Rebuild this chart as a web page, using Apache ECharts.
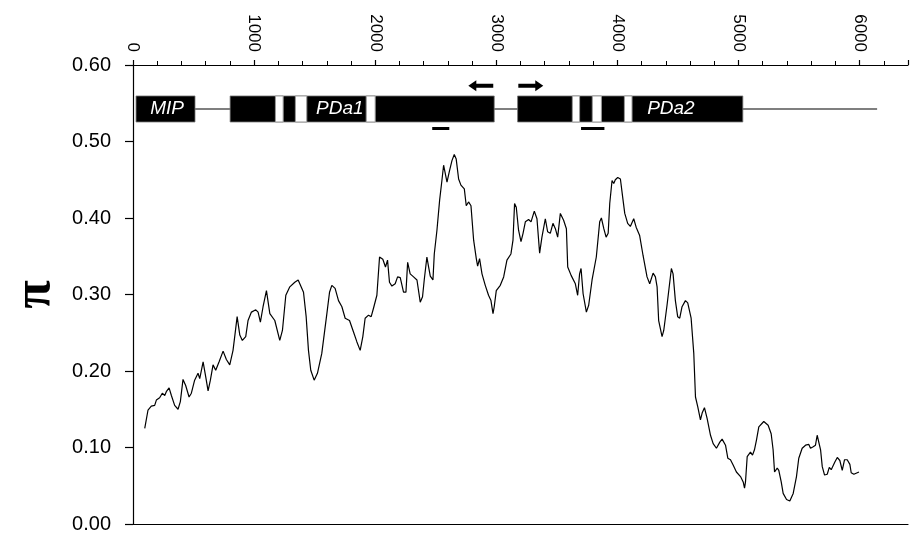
<!DOCTYPE html>
<html>
<head>
<meta charset="utf-8">
<script src="https://cdn.jsdelivr.net/npm/echarts@6/dist/echarts.min.js"></script>
<style>
  html, body { margin: 0; padding: 0; background: #fff; }
  #chart { width: 910px; height: 535px; }
</style>
</head>
<body>
<div id="chart"></div>
<script>
// sliding-window nucleotide diversity along the locus (position in bp, pi)
const positions = [
  97, 124, 151, 179, 193, 220, 242, 262, 275, 298, 317, 344, 372, 391, 413, 435, 463, 482, 509, 537,
  551, 579, 601, 620, 639, 661, 683, 711, 744, 771, 799, 826, 840, 860, 882, 903, 931, 950, 978, 1014,
  1033, 1052, 1074, 1102, 1130, 1171, 1212, 1234, 1262, 1295, 1336, 1364, 1408, 1430, 1449, 1468, 1496, 1523, 1559, 1601,
  1623, 1642, 1669, 1697, 1725, 1752, 1788, 1821, 1849, 1876, 1898, 1917, 1945, 1967, 1986, 2014, 2036, 2063, 2085, 2102,
  2118, 2138, 2165, 2185, 2207, 2234, 2254, 2268, 2289, 2317, 2345, 2372, 2391, 2405, 2427, 2441, 2455, 2477, 2488, 2510,
  2532, 2551, 2565, 2579, 2593, 2614, 2634, 2653, 2669, 2689, 2708, 2736, 2752, 2771, 2791, 2813, 2835, 2846, 2862, 2882,
  2909, 2936, 2956, 2973, 2983, 3000, 3033, 3061, 3088, 3121, 3138, 3151, 3165, 3184, 3204, 3221, 3240, 3267, 3287, 3314,
  3336, 3358, 3377, 3405, 3424, 3446, 3468, 3488, 3507, 3529, 3556, 3579, 3590, 3618, 3653, 3672, 3688, 3700, 3717, 3744,
  3763, 3791, 3826, 3854, 3868, 3888, 3907, 3924, 3937, 3956, 3970, 3983, 4003, 4025, 4044, 4061, 4085, 4107, 4135, 4155,
  4184, 4212, 4245, 4267, 4295, 4314, 4328, 4341, 4369, 4383, 4410, 4446, 4460, 4479, 4498, 4515, 4534, 4562, 4581, 4609,
  4631, 4645, 4664, 4686, 4700, 4719, 4741, 4769, 4791, 4818, 4846, 4865, 4893, 4912, 4934, 4956, 4983, 5017, 5039, 5050,
  5058, 5072, 5099, 5116, 5132, 5149, 5168, 5209, 5245, 5270, 5286, 5298, 5320, 5333, 5353, 5369, 5397, 5424, 5452, 5479,
  5498, 5526, 5554, 5581, 5595, 5617, 5636, 5650, 5664, 5678, 5692, 5711, 5733, 5750, 5766, 5779, 5796, 5816, 5837, 5857,
  5876, 5898, 5920, 5931, 5953, 5995
]
const piValues = [
  0.125, 0.149, 0.154, 0.155, 0.162, 0.165, 0.171, 0.168, 0.173, 0.178, 0.168, 0.155, 0.150, 0.160, 0.189, 0.181, 0.166, 0.171, 0.188, 0.197,
  0.190, 0.212, 0.192, 0.174, 0.188, 0.208, 0.201, 0.212, 0.226, 0.215, 0.208, 0.227, 0.245, 0.271, 0.247, 0.240, 0.245, 0.266, 0.277, 0.280,
  0.277, 0.264, 0.284, 0.305, 0.275, 0.266, 0.240, 0.253, 0.299, 0.310, 0.316, 0.319, 0.303, 0.271, 0.227, 0.201, 0.188, 0.197, 0.223, 0.275,
  0.303, 0.312, 0.308, 0.292, 0.284, 0.269, 0.266, 0.251, 0.238, 0.227, 0.245, 0.269, 0.273, 0.271, 0.282, 0.299, 0.349, 0.346, 0.336, 0.345,
  0.316, 0.311, 0.314, 0.323, 0.322, 0.303, 0.303, 0.342, 0.327, 0.323, 0.319, 0.290, 0.297, 0.319, 0.349, 0.336, 0.324, 0.319, 0.353, 0.384,
  0.423, 0.449, 0.469, 0.471, 0.447, 0.462, 0.475, 0.483, 0.477, 0.451, 0.443, 0.438, 0.416, 0.421, 0.416, 0.371, 0.347, 0.337, 0.347, 0.327,
  0.312, 0.299, 0.292, 0.275, 0.284, 0.305, 0.312, 0.323, 0.345, 0.353, 0.371, 0.419, 0.414, 0.384, 0.369, 0.380, 0.395, 0.398, 0.395, 0.409,
  0.399, 0.354, 0.375, 0.399, 0.382, 0.380, 0.393, 0.386, 0.375, 0.406, 0.397, 0.386, 0.336, 0.325, 0.314, 0.299, 0.327, 0.334, 0.301, 0.277,
  0.286, 0.319, 0.349, 0.395, 0.400, 0.386, 0.375, 0.380, 0.419, 0.449, 0.445, 0.450, 0.453, 0.451, 0.427, 0.406, 0.393, 0.389, 0.399, 0.388,
  0.377, 0.351, 0.323, 0.314, 0.328, 0.323, 0.310, 0.266, 0.245, 0.253, 0.286, 0.334, 0.327, 0.292, 0.271, 0.269, 0.284, 0.292, 0.289, 0.269,
  0.223, 0.166, 0.153, 0.136, 0.145, 0.152, 0.138, 0.116, 0.105, 0.099, 0.107, 0.111, 0.103, 0.086, 0.084, 0.077, 0.068, 0.062, 0.055, 0.047,
  0.055, 0.088, 0.094, 0.090, 0.097, 0.110, 0.127, 0.134, 0.129, 0.118, 0.097, 0.068, 0.073, 0.070, 0.055, 0.040, 0.032, 0.030, 0.040, 0.062,
  0.086, 0.099, 0.103, 0.104, 0.099, 0.101, 0.103, 0.116, 0.114, 0.097, 0.075, 0.064, 0.065, 0.074, 0.071, 0.073, 0.081, 0.087, 0.083, 0.070,
  0.084, 0.084, 0.078, 0.067, 0.065, 0.068
]

// gene map (bp)
const backbone = [[25, 6145]]
const geneBlocks = [[25, 512], [802, 2983], [3176, 5036]]
const introns = [[1176, 1240], [1341, 1435], [1926, 2000], [3628, 3688], [3793, 3868], [4058, 4121]]
const geneNames = ['MIP', 'PDa1', 'PDa2']
const geneNameAt = [281, 1708, 4442]
const primers = [[2975, 2769], [3182, 3388]] // [tail, head]
const probes = [[2471, 2612], [3700, 3893]]

// axis ticks
const xLabelTicks = [0, 1000, 2000, 3000, 4000, 5000, 6000]
const yTicks = [0, 0.1, 0.2, 0.3, 0.4, 0.5, 0.6]

const TRACK_Y = 0.5425
const TRACK_HALF = 0.017
const PRIMER_Y = 0.573
const PROBE_Y = 0.517
const FONT = '"Liberation Sans", Arial, Helvetica, sans-serif'

const chart = echarts.init(document.getElementById('chart'), null, { renderer: 'canvas' })

function spanRect(api, a, b, yc, half) {
  const p1 = api.coord([a, yc + half])
  const p2 = api.coord([b, yc - half])
  return { x: Math.min(p1[0], p2[0]), y: p1[1], width: Math.abs(p2[0] - p1[0]), height: p2[1] - p1[1] }
}

const axisLineStyle = { color: '#000', width: 1.2 }

chart.setOption({
  animation: false,
  backgroundColor: '#fff',
  grid: { left: 133, right: 2, top: 65, bottom: 11, containLabel: false, outerBoundsMode: 'none' },
  xAxis: [
    {
      type: 'value', position: 'top', min: 0, max: 6400, interval: 1000,
      axisLine: { show: true, onZero: false, lineStyle: axisLineStyle },
      axisTick: { show: true, inside: false, length: 5, lineStyle: axisLineStyle },
      minorTick: { show: true, splitNumber: 5, length: 4, lineStyle: { color: '#000', width: 1 } },
      axisLabel: {
        rotate: 90, margin: 13, color: '#000', fontSize: 17, fontFamily: FONT,
        formatter: v => (xLabelTicks.indexOf(v) >= 0 ? String(v) : '')
      },
      splitLine: { show: false }
    },
    {
      type: 'value', position: 'bottom', min: 0, max: 6400,
      axisLine: { show: true, onZero: false, lineStyle: axisLineStyle },
      axisTick: { show: false }, axisLabel: { show: false }, splitLine: { show: false }
    }
  ],
  yAxis: {
    type: 'value', min: 0, max: 0.6, interval: 0.1,
    axisLine: { show: true, onZero: false, lineStyle: axisLineStyle },
    axisTick: { show: true, inside: false, length: 8, lineStyle: axisLineStyle },
    axisLabel: {
      margin: 22, color: '#000', fontSize: 20, fontFamily: FONT,
      formatter: v => (yTicks.some(t => Math.abs(t - v) < 1e-9) ? v.toFixed(2) : '')
    },
    splitLine: { show: false },
    name: 'π', nameLocation: 'middle', nameGap: 67,
    nameTextStyle: { fontSize: 52, fontWeight: 'bold', fontFamily: '"Liberation Serif", "DejaVu Serif", serif', color: '#000' }
  },
  series: [
    {
      type: 'custom', name: 'backbone', xAxisIndex: 0, data: backbone, silent: true,
      renderItem(params, api) {
        const a = api.coord([api.value(0), TRACK_Y])
        const b = api.coord([api.value(1), TRACK_Y])
        return { type: 'line', shape: { x1: a[0], y1: a[1], x2: b[0], y2: b[1] }, style: { stroke: '#000', lineWidth: 1.2 } }
      }
    },
    {
      type: 'custom', name: 'exons', xAxisIndex: 0, data: geneBlocks, silent: true,
      renderItem(params, api) {
        return { type: 'rect', shape: spanRect(api, api.value(0), api.value(1), TRACK_Y, TRACK_HALF), style: { fill: '#000', stroke: '#777', lineWidth: 0.8 } }
      }
    },
    {
      type: 'custom', name: 'introns', xAxisIndex: 0, data: introns, silent: true,
      renderItem(params, api) {
        return { type: 'rect', shape: spanRect(api, api.value(0), api.value(1), TRACK_Y, TRACK_HALF), style: { fill: '#fff', stroke: '#999', lineWidth: 1 } }
      }
    },
    {
      type: 'custom', name: 'genes', xAxisIndex: 0, data: geneNameAt.map(v => [v]), silent: true,
      renderItem(params, api) {
        const p = api.coord([api.value(0), TRACK_Y])
        return {
          type: 'text', x: p[0], y: p[1],
          style: {
            text: geneNames[params.dataIndex], fill: '#fff', fontStyle: 'italic',
            fontSize: 19, fontFamily: FONT, align: 'center', verticalAlign: 'middle'
          }
        }
      }
    },
    {
      type: 'custom', name: 'primers', xAxisIndex: 0, data: primers, silent: true,
      renderItem(params, api) {
        const t = api.coord([api.value(0), PRIMER_Y])
        const h = api.coord([api.value(1), PRIMER_Y])
        const d = h[0] > t[0] ? 1 : -1
        const neck = h[0] - d * 8
        const y = t[1]
        return {
          type: 'polygon',
          shape: { points: [[t[0], y - 2], [neck, y - 2], [neck, y - 5.5], [h[0], y], [neck, y + 5.5], [neck, y + 2], [t[0], y + 2]] },
          style: { fill: '#000' }
        }
      }
    },
    {
      type: 'custom', name: 'probes', xAxisIndex: 0, data: probes, silent: true,
      renderItem(params, api) {
        const a = api.coord([api.value(0), PROBE_Y])
        const b = api.coord([api.value(1), PROBE_Y])
        return { type: 'rect', shape: { x: a[0], y: a[1] - 1.5, width: b[0] - a[0], height: 3 }, style: { fill: '#000' } }
      }
    },
    {
      type: 'line', name: 'pi', xAxisIndex: 0,
      data: positions.map((p, i) => [p, piValues[i]]),
      showSymbol: false, smooth: false,
      lineStyle: { color: '#000', width: 1.2 },
      itemStyle: { color: '#000' }
    }
  ]
})
</script>
</body>
</html>
